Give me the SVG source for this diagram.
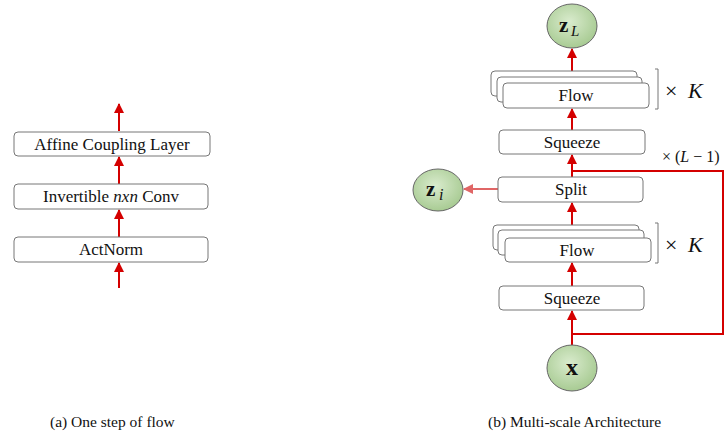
<svg xmlns="http://www.w3.org/2000/svg" width="726" height="437" viewBox="0 0 726 437">
<defs>
<marker id="ah" viewBox="0 0 10 10" refX="9" refY="5" markerWidth="10" markerHeight="10" markerUnits="userSpaceOnUse" orient="auto">
<path d="M0,0 L10,5 L0,10 z" fill="#d40000"/>
</marker>
<marker id="ahl" viewBox="0 0 10 10" refX="9" refY="5" markerWidth="10" markerHeight="10" markerUnits="userSpaceOnUse" orient="auto">
<path d="M0,0 L10,5 L0,10 z" fill="#e06666"/>
</marker>
<radialGradient id="g" cx="0.45" cy="0.4" r="0.6">
<stop offset="0" stop-color="#d9ebcd"/>
<stop offset="1" stop-color="#a8cb93"/>
</radialGradient>
</defs>
<style>
.box{fill:#fff;stroke:#777;stroke-width:1}
.t{font-family:"Liberation Serif",serif;font-size:17px;fill:#111;text-anchor:middle}
.cap{font-family:"Liberation Serif",serif;font-size:15.5px;fill:#111}
.a{stroke:#d40000;stroke-width:2;fill:none;marker-end:url(#ah)}
.al{stroke:#e06666;stroke-width:2;fill:none;marker-end:url(#ahl)}
.fb{stroke:#d40000;stroke-width:2;fill:none}
.el{fill:url(#g);stroke:#666;stroke-width:1}
.m{font-family:"Liberation Serif",serif;fill:#111}
.br{stroke:#777;stroke-width:1;fill:none}
</style>

<g id="connectors">
<line class="a" x1="119" y1="131" x2="119" y2="104"/>
<line class="a" x1="119" y1="184" x2="119" y2="157"/>
<line class="a" x1="119" y1="237" x2="119" y2="210"/>
<line class="a" x1="119" y1="288" x2="119" y2="263"/>

<line class="a" x1="572" y1="71" x2="572" y2="49"/>
<line class="a" x1="572" y1="130" x2="572" y2="109"/>
<line class="a" x1="572" y1="177" x2="572" y2="155"/>
<line class="a" x1="572" y1="225" x2="572" y2="203"/>
<line class="a" x1="572" y1="286" x2="572" y2="263"/>
<line class="a" x1="572" y1="345" x2="572" y2="311"/>
<line class="al" x1="498" y1="189" x2="464" y2="189"/>
<polyline class="fb" points="572,171 723,171 723,334 572,334"/>
</g>

<g id="affine"><rect class="box" x="14" y="132" width="196" height="24" rx="4"/><text class="t" x="112" y="150">Affine Coupling Layer</text></g>
<g id="invconv"><rect class="box" x="14" y="184" width="194" height="25" rx="4"/><text class="t" x="111" y="202">Invertible <tspan font-style="italic">nxn</tspan> Conv</text></g>
<g id="actnorm"><rect class="box" x="14" y="237" width="194" height="25" rx="4"/><text class="t" x="111" y="255">ActNorm</text></g>

<g id="zL"><ellipse class="el" cx="572" cy="26" rx="25" ry="22"/><text class="m" x="559" y="32" font-size="21" font-weight="bold">z</text><text class="m" x="571" y="36" font-size="15" font-style="italic">L</text></g>

<g id="flow1">
<rect class="box" x="491" y="71" width="146" height="25" rx="4"/>
<rect class="box" x="497" y="77" width="145" height="25" rx="4"/>
<rect class="box" x="503" y="83" width="146" height="25" rx="4"/>
<text class="t" x="576" y="101">Flow</text>
</g>
<g id="k1"><polyline class="br" points="655,69 658,69 658,109 655,109"/><text class="m" x="665" y="98" font-size="22">×</text><text class="m" x="688" y="98" font-size="22" font-style="italic">K</text></g>

<g id="squeeze1"><rect class="box" x="499" y="130" width="146" height="24" rx="4"/><text class="t" x="572" y="148">Squeeze</text></g>
<g id="lminus"><text class="m" x="662" y="162" font-size="16">× (<tspan font-style="italic">L</tspan> − 1)</text></g>

<g id="split"><rect class="box" x="498" y="177" width="145" height="25" rx="4"/><text class="t" x="571" y="195">Split</text></g>
<g id="zi"><ellipse class="el" cx="438" cy="190" rx="25" ry="21"/><text class="m" x="426" y="196" font-size="21" font-weight="bold">z</text><text class="m" x="439" y="200" font-size="16" font-style="italic">i</text></g>

<g id="flow2">
<rect class="box" x="493" y="225" width="146" height="25" rx="4"/>
<rect class="box" x="498" y="230" width="146" height="25" rx="4"/>
<rect class="box" x="505" y="238" width="146" height="24" rx="4"/>
<text class="t" x="577" y="256">Flow</text>
</g>
<g id="k2"><polyline class="br" points="655,223 658,223 658,263 655,263"/><text class="m" x="665" y="252" font-size="22">×</text><text class="m" x="688" y="252" font-size="22" font-style="italic">K</text></g>

<g id="squeeze2"><rect class="box" x="499" y="286" width="145" height="24" rx="4"/><text class="t" x="572" y="304">Squeeze</text></g>

<g id="x"><ellipse class="el" cx="572" cy="368" rx="25" ry="23"/><text class="m" x="572" y="375" font-size="24" font-weight="bold" text-anchor="middle">x</text></g>

<text class="cap" x="50" y="427">(a) One step of flow</text>
<text class="cap" x="488" y="427">(b) Multi-scale Architecture</text>
</svg>
